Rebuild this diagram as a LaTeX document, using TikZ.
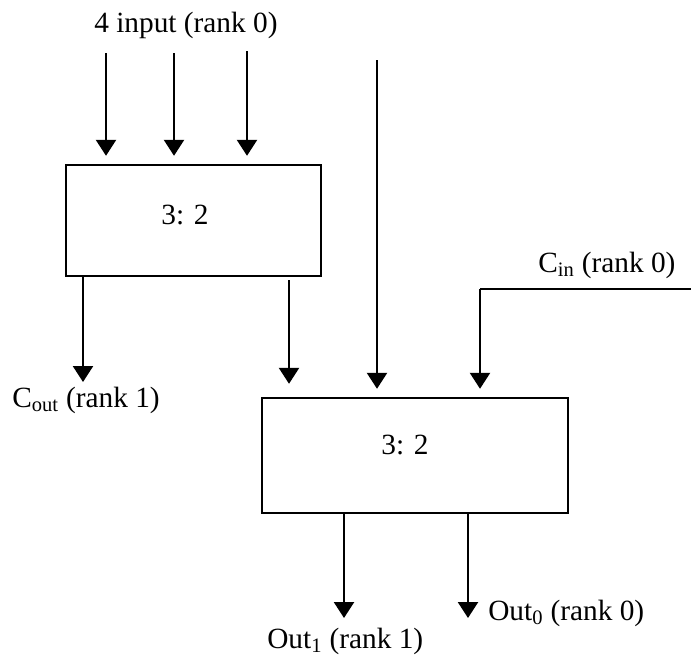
\documentclass[tikz,border=0pt]{standalone}
\usepackage{fontspec}
\setmainfont{Liberation Serif}
\usetikzlibrary{arrows.meta}
\begin{document}
\begin{tikzpicture}[x=0.75pt,y=-0.75pt,
  box/.style={draw,line width=1.8pt,inner sep=0pt},
  arr/.style={line width=1.8pt,-{Triangle[width=15pt,length=12pt]}},
  wire/.style={line width=1.8pt},
  lbl/.style={inner sep=0pt,anchor=base west,font=\fontsize{22}{26}\selectfont},
  ctr/.style={inner sep=0pt,anchor=base,font=\fontsize{22}{26}\selectfont}]
\useasboundingbox (0,0) rectangle (691,657);
% boxes
\node[box,minimum width=191.25pt,minimum height=83.25pt] (top) at (193.5,220.5) {};
\node[box,minimum width=229.5pt,minimum height=86.25pt] (bot) at (415,455.5) {};
\node[ctr] (toptxt) at (185,224) {3: 2};
\node[ctr] (bottxt) at (405,454) {3: 2};
% labels
\node[lbl] (inlbl) at (94,32) {4 input (rank 0)};
\node[lbl] (cinlbl) at (538,272) {C\textsubscript{in} (rank 0)};
\node[lbl] (coutlbl) at (12,407) {C\textsubscript{out} (rank 1)};
\node[lbl] (out0lbl) at (488,620) {Out\textsubscript{0} (rank 0)};
\node[lbl] (out1lbl) at (267,648) {Out\textsubscript{1} (rank 1)};
% inputs to top box
\coordinate (i1) at (106,53);
\coordinate (i2) at (174,53);
\coordinate (i3) at (247,51);
\foreach \c in {i1,i2,i3}
  \draw[arr,shorten >=6pt] (\c) -- (\c |- top.north);
% top box outputs
\coordinate (c1) at (83,276);
\coordinate (coutE) at (83,382);
\draw[arr] (c1) -- (coutE);
\coordinate (s1) at (289,280);
\draw[arr,shorten >=9.75pt] (s1) -- (s1 |- bot.north);
% long input
\coordinate (l1) at (377,60);
\draw[arr,shorten >=6pt] (l1) -- (l1 |- bot.north);
% carry in
\coordinate (cinS) at (691,289);
\coordinate (cinK) at (480,289);
\draw[wire] (cinS) -- (cinK);
\draw[arr,shorten >=6pt] (cinK) -- (cinK |- bot.north);
% bottom outputs
\coordinate (o1s) at (344,513);
\coordinate (o1e) at (344,618);
\coordinate (o0s) at (468,513);
\coordinate (o0e) at (468,618);
\draw[arr] (o1s) -- (o1e);
\draw[arr] (o0s) -- (o0e);
\end{tikzpicture}
\end{document}
